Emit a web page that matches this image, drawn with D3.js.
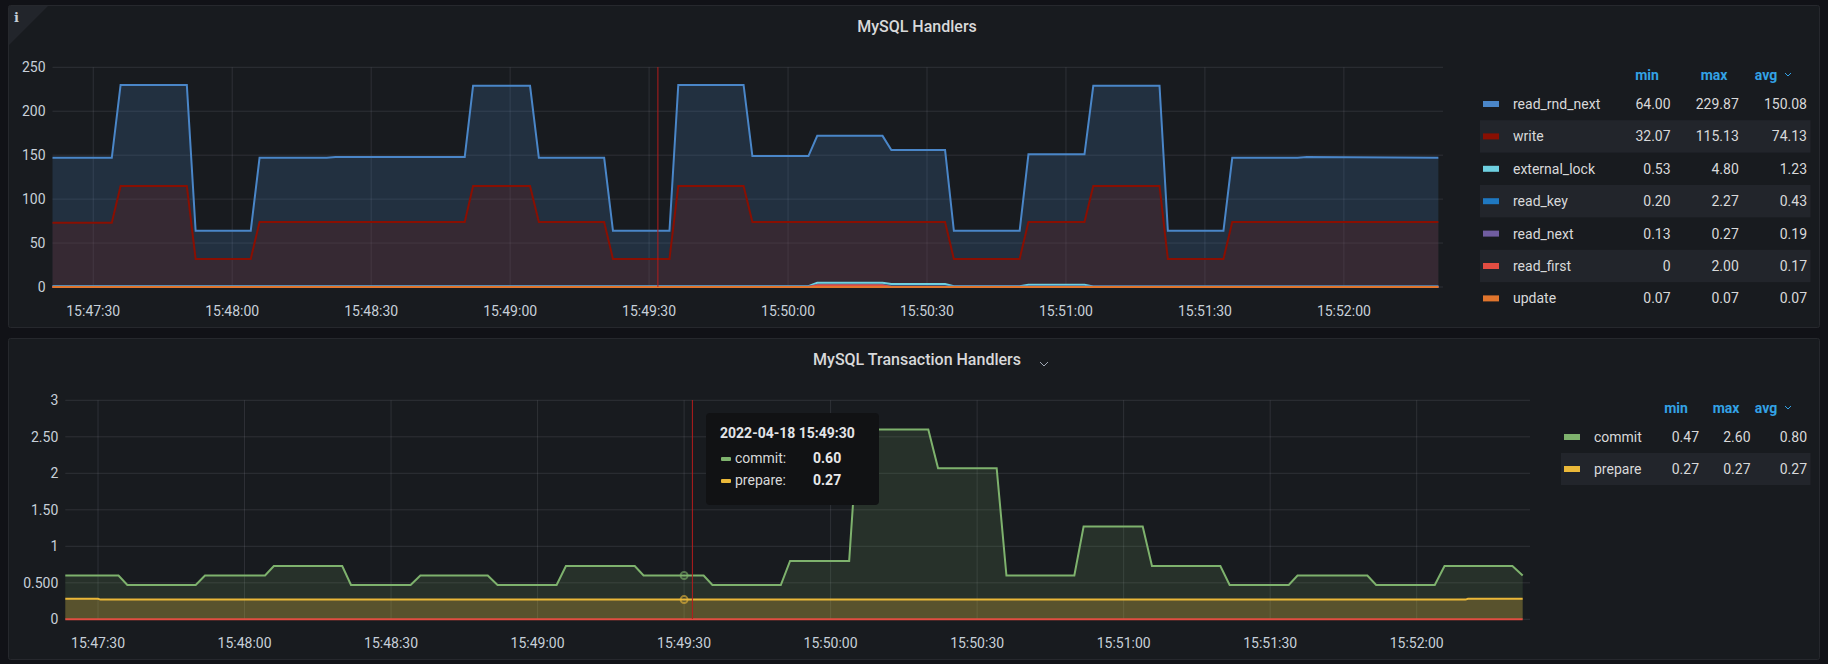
<!DOCTYPE html>
<html><head><meta charset="utf-8">
<script src="https://cdn.jsdelivr.net/npm/d3@7"></script>
<style>
html,body{margin:0;padding:0;background:#111217;}
svg{display:block;font-family:Roboto,Inter,"Noto Sans",sans-serif;}
</style></head><body>
<svg id="c" width="1828" height="664"></svg>
<script>
// ---- data (t = seconds relative to 15:47:30) ----
const tickLabels = ["15:47:30","15:48:00","15:48:30","15:49:00","15:49:30","15:50:00","15:50:30","15:51:00","15:51:30","15:52:00"];
const tickSeconds = [0,30,60,90,120,150,180,210,240,270];

const readRndNextT = [-8.8,4,5.9,20.2,22.1,34,35.9,50.4,52.3,80.2,82,94.3,96.2,110.3,112.2,124.4,126.3,140.4,142.3,154.4,156.3,170.4,172.3,183.9,185.8,200,201.9,214,215.9,230.2,232,244,245.9,260,262,290.4];
const readRndNextV = [147,147,230,230,64,64,147,147,148,148,229,229,147,147,64,64,230,230,149,149,172,172,156,156,64,64,151,151,229,229,64,64,147,147,148,147];
const writeT = [-8.8,4,5.9,20.2,22.1,34,35.9,80.2,82,94.3,96.2,110.3,112.2,124.4,126.3,140.4,142.3,183.9,185.8,200,201.9,214,215.9,230.2,232,244,245.9,290.4];
const writeV = [73,73,115,115,32,32,74,74,115,115,74,74,32,32,115,115,74,74,32,32,74,74,115,115,32,32,74,74];
const externalLockT = [-8.8,154.4,156.3,170.4,172.3,183.9,185.8,200,201.9,214,215.9,290.4];
const externalLockV = [0.8,0.8,4.8,4.8,3.3,3.3,0.8,0.8,2.5,2.5,0.6,0.53];
const readKeyT = [-8.8,154.4,156.3,170.4,172.3,290.4];
const readKeyV = [0.2,0.2,2.27,2.27,0.3,0.2];
const readNextT = [-8.8,290.4];
const readNextV = [0.2,0.2];
const readFirstT = [-8.8,154.4,156.3,170.4,172.3,290.4];
const readFirstV = [0,0,2,2,0,0];
const updateT = [-8.8,290.4];
const updateV = [0.07,0.07];

const topNames = ["read_rnd_next","write","external_lock","read_key","read_next","read_first","update"];
const topMin = ["64.00","32.07","0.53","0.20","0.13","0","0.07"];
const topMax = ["229.87","115.13","4.80","2.27","0.27","2.00","0.07"];
const topAvg = ["150.08","74.13","1.23","0.43","0.19","0.17","0.07"];
const topColors = ["#4a86c8","#890f02","#6ed0e0","#1f78c1","#705da0","#e24d42","#e0752d"];

const commitT = [-6.7,4.2,6,20,21.9,34.2,36,50,51.8,64,66,79.8,81.8,93.9,95.8,109.9,111.7,124,125.8,139.8,141.7,153.8,155.6,170,172,184,186,199.9,201.8,213.9,215.8,229.8,231.7,243.8,245.6,259.9,261.7,273.7,275.7,289.6,291.7];
const commitV = [0.60,0.60,0.47,0.47,0.60,0.60,0.73,0.73,0.47,0.47,0.60,0.60,0.47,0.47,0.73,0.73,0.60,0.60,0.47,0.47,0.80,0.80,2.60,2.60,2.07,2.07,0.60,0.60,1.27,1.27,0.73,0.73,0.47,0.47,0.60,0.60,0.47,0.47,0.73,0.73,0.60];
const prepareT = [-6.7,0,0.5,280,280.5,291.7];
const prepareV = [0.28,0.28,0.27,0.27,0.28,0.28];
const rollbackT = [-6.7,291.7];
const rollbackV = [0,0];
const botNames = ["commit","prepare"];
const botMin = ["0.47","0.27"], botMax = ["2.60","0.27"], botAvg = ["0.80","0.27"];
const botColors = ["#7eb26d","#eab839"];
const topYTicks = [0,50,100,150,200,250];
const botYTicks = [0,0.5,1,1.5,2,2.5,3];
const botYLabels = ["0","0.500","1","1.50","2","2.50","3"];

const svg = d3.select("#c");
const gridC = "rgba(204,204,220,0.12)", txt = "#c7d0d9", hdr = "#33a2e5";

function panel(y0,y1,title,chev){
  svg.append("rect").attr("x",8.5).attr("y",y0+0.5).attr("width",1811).attr("height",y1-y0)
    .attr("rx",2).attr("fill","#181b1f").attr("stroke","#26282d");
  svg.append("text").attr("x",917).attr("y",y0+27).attr("text-anchor","middle")
    .attr("fill","#d8d9da").attr("font-size",16).attr("font-weight",500).text(title);
  if(chev) svg.append("path").attr("d",`M1040,${y0+24} l4,4 l4,-4`).attr("stroke","#9fa7b3").attr("fill","none");
}
panel(5,327,"MySQL Handlers",false);
panel(338,659,"MySQL Transaction Handlers",true);
svg.append("path").attr("d","M9,6 L48,6 L9,45 Z").attr("fill","#22252b");
svg.append("text").attr("x",14).attr("y",22).attr("fill","#c7d0d9").attr("font-size",13).attr("font-weight",700).attr("font-family","DejaVu Serif").text("i");

function chart(o){
  const x = d3.scaleLinear().domain(o.xd).range([o.l,o.r]);
  const y = d3.scaleLinear().domain(o.yd).range([o.b,o.t]);
  const g = svg.append("g");
  g.selectAll(".hg").data(o.yt).join("line").attr("x1",o.l).attr("x2",o.r)
    .attr("y1",d=>y(d)).attr("y2",d=>y(d)).attr("stroke",gridC);
  g.selectAll(".vg").data(tickSeconds).join("line").attr("x1",d=>x(d)).attr("x2",d=>x(d))
    .attr("y1",o.t).attr("y2",o.b).attr("stroke",gridC);
  g.selectAll(".yl").data(o.yt).join("text").attr("x",o.l-7).attr("y",d=>y(d)+5)
    .attr("text-anchor","end").attr("fill",txt).attr("font-size",14).text((d,i)=>o.yl?o.yl[i]:d);
  g.selectAll(".xl").data(tickSeconds).join("text").attr("x",d=>x(d)).attr("y",o.b+29)
    .attr("text-anchor","middle").attr("fill",txt).attr("font-size",14).text((d,i)=>tickLabels[i]);
  const line = d3.line().x(d=>x(d[0])).y(d=>y(d[1]));
  const area = d3.area().x(d=>x(d[0])).y0(y(0)).y1(d=>y(d[1]));
  o.series.forEach(s=>{
    const pts = s.t.map((t,i)=>[t,s.v[i]]);
    g.append("path").attr("d",area(pts)).attr("fill",s.c).attr("fill-opacity",s.fo??0.12);
  });
  o.series.forEach(s=>{
    const pts = s.t.map((t,i)=>[t,s.v[i]]);
    g.append("path").attr("d",line(pts)).attr("fill","none").attr("stroke",s.c).attr("stroke-width",2);
  });
  return {x,y,g};
}

const topChart = chart({xd:[-8.8,291.4],l:52.5,r:1443,yd:[0,250],t:67.3,b:287,yt:topYTicks,
  series:[
    {t:readRndNextT,v:readRndNextV,c:topColors[0],fo:0.2},
    {t:writeT,v:writeV,c:topColors[1],fo:0.2},
    {t:externalLockT,v:externalLockV,c:topColors[2]},
    {t:readKeyT,v:readKeyV,c:topColors[3]},
    {t:readNextT,v:readNextV,c:topColors[4]},
    {t:readFirstT,v:readFirstV,c:topColors[5]},
    {t:updateT,v:updateV,c:topColors[6]}]});
svg.append("line").attr("x1",topChart.x(121.9)).attr("x2",topChart.x(121.9)).attr("y1",67).attr("y2",287).attr("stroke","#b31d1d");

const botChart = chart({xd:[-6.7,293.2],l:65.3,r:1530,yd:[0,3],t:400.3,b:619.3,yt:botYTicks,yl:botYLabels,
  series:[
    {t:commitT,v:commitV,c:botColors[0],fo:0.15},
    {t:prepareT,v:prepareV,c:botColors[1],fo:0.25},
    {t:rollbackT,v:rollbackV,c:"#e24d42"}]});
svg.append("line").attr("x1",botChart.x(121.7)).attr("x2",botChart.x(121.7)).attr("y1",400).attr("y2",619).attr("stroke","#b31d1d");
[[0.60,botColors[0]],[0.27,botColors[1]]].forEach(([v,c])=>{
  svg.append("circle").attr("cx",botChart.x(120)).attr("cy",botChart.y(v)).attr("r",3.5).attr("fill","none").attr("stroke",c).attr("stroke-width",2).attr("stroke-opacity",0.6);
});

const tt = svg.append("g");
tt.append("rect").attr("x",706).attr("y",413).attr("width",173).attr("height",92).attr("rx",4).attr("fill","#111214");
tt.append("text").attr("x",720).attr("y",438).attr("fill","#e2e4e8").attr("font-size",14).attr("font-weight",700).text("2022-04-18 15:49:30");
[["commit:","0.60",botColors[0]],["prepare:","0.27",botColors[1]]].forEach((r,i)=>{
  const yy = 463+i*22;
  tt.append("rect").attr("x",721).attr("y",yy-6).attr("width",10).attr("height",4).attr("rx",1).attr("fill",r[2]);
  tt.append("text").attr("x",735).attr("y",yy).attr("fill","#d8d9da").attr("font-size",14).text(r[0]);
  tt.append("text").attr("x",813).attr("y",yy).attr("fill","#e8e9ea").attr("font-size",14).attr("font-weight",700).text(r[1]);
});

function legend(o){
  const g = svg.append("g");
  [["min",o.cmin],["max",o.cmax],["avg",o.cavg]].forEach(([n,cx])=>{
    g.append("text").attr("x",cx).attr("y",o.hy).attr("text-anchor","middle").attr("fill",hdr)
      .attr("font-size",14).attr("font-weight",700).text(n);
  });
  g.append("path").attr("d",`M${o.cavg+19},${o.hy-7} l3,3 l3,-3`).attr("stroke",hdr).attr("fill","none");
  o.names.forEach((n,i)=>{
    const cy = o.y0+i*o.dy;
    if(i%2===1) g.append("rect").attr("x",o.bx).attr("y",cy-o.dy/2).attr("width",1810.5-o.bx).attr("height",o.dy).attr("fill","#22252b");
    g.append("rect").attr("x",o.sx).attr("y",cy-3).attr("width",16).attr("height",6).attr("fill",o.colors[i]);
    g.append("text").attr("x",o.nx).attr("y",cy+5).attr("fill","#d8d9da").attr("font-size",14).text(n);
    [[o.min,o.rmin],[o.max,o.rmax],[o.avg,o.ravg]].forEach(([arr,rx])=>{
      g.append("text").attr("x",rx).attr("y",cy+5).attr("text-anchor","end").attr("fill","#d8d9da").attr("font-size",14).text(arr[i]);
    });
  });
}
legend({names:topNames,min:topMin,max:topMax,avg:topAvg,colors:topColors,hy:80,y0:104,dy:32.4,bx:1480,sx:1483,nx:1513,
  rmin:1670.6,rmax:1738.8,ravg:1807,cmin:1647,cmax:1714,cavg:1766});
legend({names:botNames,min:botMin,max:botMax,avg:botAvg,colors:botColors,hy:413,y0:437,dy:32,bx:1561,sx:1564,nx:1594,
  rmin:1699,rmax:1750.5,ravg:1807,cmin:1676,cmax:1726,cavg:1766});
</script></body></html>
